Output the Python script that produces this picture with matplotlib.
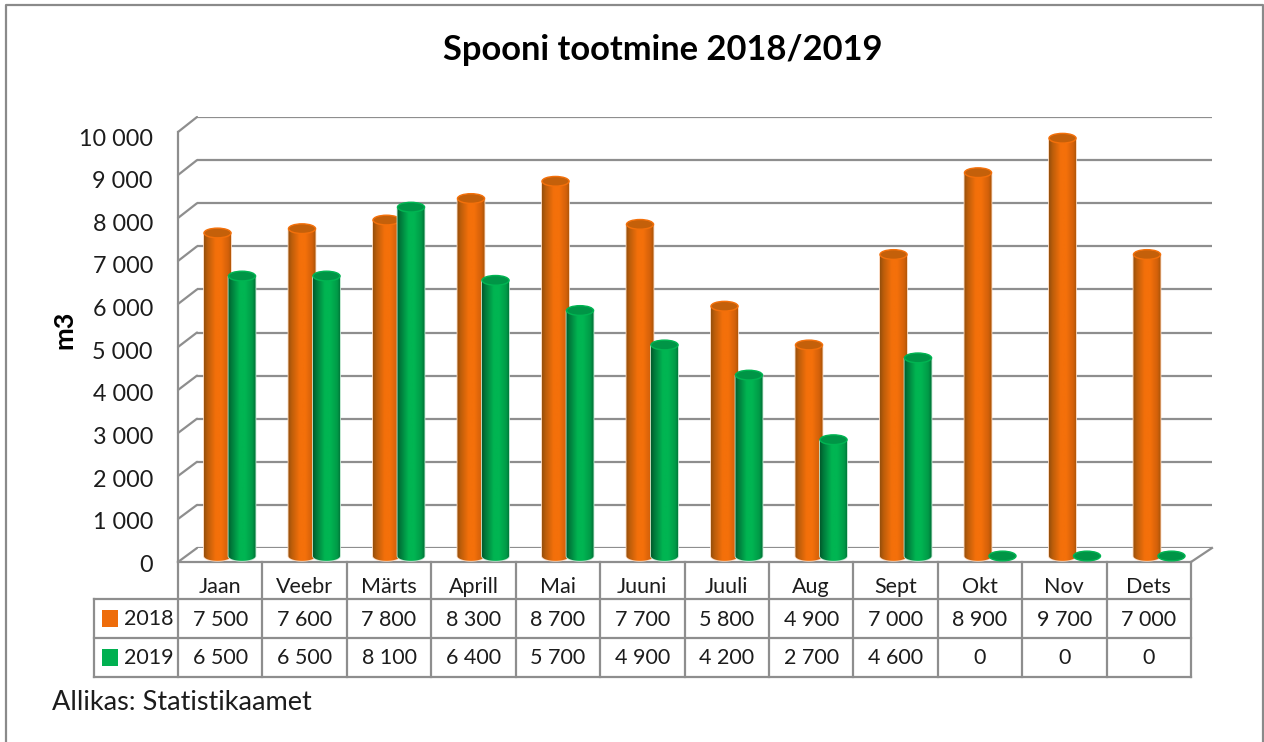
import numpy as np
import matplotlib
matplotlib.use("Agg")
import matplotlib.pyplot as plt
from matplotlib.colors import LinearSegmentedColormap
from matplotlib.patches import Ellipse, PathPatch, Rectangle
from matplotlib.path import Path

months = ["Jaan", "Veebr", "Märts", "Aprill", "Mai", "Juuni", "Juuli", "Aug", "Sept", "Okt", "Nov", "Dets"]
v2018 = [7500, 7600, 7800, 8300, 8700, 7700, 5800, 4900, 7000, 8900, 9700, 7000]
v2019 = [6500, 6500, 8100, 6400, 5700, 4900, 4200, 2700, 4600, 0, 0, 0]
ticks = [0, 1000, 2000, 3000, 4000, 5000, 6000, 7000, 8000, 9000, 10000]
title = "Spooni tootmine 2018/2019"
ylabel = "m3"
source = "Allikas: Statistikaamet"

plt.rcParams["font.family"] = ["Lato", "DejaVu Sans"]
W, H = 1264, 742
GRID = "#8e8e8e"
TXT = "#1c1c1c"
fmt = lambda v: f"{v:,}".replace(",", " ")

fig = plt.figure(figsize=(W / 100, H / 100), dpi=100, facecolor="white")

def plane(x0, x1, ytop, ybot, ymin=0):
    a = fig.add_axes([x0 / W, 1 - ybot / H, (x1 - x0) / W, (ybot - ytop) / H])
    a.set_xlim(0, 12)
    a.set_ylim(ymin, 10000)
    a.patch.set_alpha(0)
    return a

# pixel overlay for frame, table, text
ov = fig.add_axes([0, 0, 1, 1])
ov.set_xlim(0, W)
ov.set_ylim(H, 0)
ov.axis("off")
ov.plot([6, 6, 1263, 1263], [H, 5, 5, H], color="#8a8a8a", lw=1.6)

# back wall with gridlines
back = plane(197, 1212, 117, 548)
back.set_yticks(ticks)
back.set_xticks([])
back.tick_params(left=False, labelleft=False)
back.grid(axis="y", color=GRID, lw=1.6)
for s in back.spines.values():
    s.set_visible(False)

# front plane: axis lines
front = plane(178, 1191, 132, 562)
front.set_xticks([])
front.set_yticks([])
for n, s in front.spines.items():
    s.set_visible(n in ("left", "bottom"))
    s.set_color(GRID)
    s.set_linewidth(1.6)

# value-axis labels
lab = plane(178, 1191, 137, 563.5)
lab.set_yticks(ticks)
lab.set_yticklabels([fmt(t) for t in ticks], fontsize=16.8, color=TXT)
lab.set_xticks([])
lab.tick_params(axis="y", length=0, pad=18)
for s in lab.spines.values():
    s.set_visible(False)
lab.set_ylabel(ylabel, fontsize=19.5, fontweight="bold", color="black", labelpad=0)
lab.yaxis.set_label_coords((76 - 178) / (1191 - 178), (563.5 - 330) / (563.5 - 137))

# depth connectors
for t in ticks:
    yf = 562 - t * 0.043
    yb = 548 - t * 0.0431
    ov.plot([178, 197], [yf, yb], color=GRID, lw=1.6, solid_capstyle="round")
ov.plot([1191, 1212], [562, 548], color=GRID, lw=1.6)

# cylinders (axes extends below zero so the rounded bases are not clipped)
KY = (556 - 125.3) / 10000
YMIN = -500
mid = plane(187.5, 1201.5, 125.3, 556 - YMIN * KY, ymin=YMIN)
mid.axis("off")
cm_o = LinearSegmentedColormap.from_list("o", [(0, "#96500c"), (0.12, "#bb5d0a"), (0.42, "#f4700a"), (0.62, "#f4700a"), (0.88, "#d2600a"), (1, "#a85408")])
cm_g = LinearSegmentedColormap.from_list("g", [(0, "#005c2c"), (0.12, "#007a3b"), (0.42, "#00b552"), (0.62, "#00b552"), (0.88, "#009a47"), (1, "#007036")])
grad = np.linspace(0, 1, 64).reshape(1, -1)
BW = 0.32
EH = 225.0

def cylinder(cx, v, cmap, topc, halo, z):
    x0, x1 = cx - BW / 2, cx + BW / 2
    if v > 0:
        th = np.linspace(np.pi, 2 * np.pi, 40)
        vx = np.r_[x0, cx + BW / 2 * np.cos(th), x1, x0]
        vy = np.r_[v, EH / 2 * np.sin(th), v, v]
        clip = PathPatch(Path(np.c_[vx, vy]), transform=mid.transData, fc="none", ec=halo, lw=1.2, zorder=z - 0.2)
        mid.add_patch(clip)
        im = mid.imshow(grad, cmap=cmap, extent=(x0, x1, -EH, v), aspect="auto", zorder=z, interpolation="bilinear")
        im.set_clip_path(clip)
    mid.add_patch(Ellipse((cx, v), BW, EH, fc=topc, ec=cmap(0.5), lw=1.0, zorder=z + 0.5))

for i, (a, b) in enumerate(zip(v2018, v2019)):
    cylinder(i + 0.5 - 0.145, a, cm_o, "#c4600a", "#fbd6bb", 3 + i * 2)
    cylinder(i + 0.5 + 0.145, b, cm_g, "#009546", "#bfe8d0", 4 + i * 2)
mid.set_xlim(0, 12)
mid.set_ylim(YMIN, 10000)

# data table
cw = (1191 - 178) / 12
r = [562, 599, 638, 677]
ov.plot([178, 178], [r[0], r[3]], color=GRID, lw=1.6)
ov.plot([94, 94], [r[1], r[3]], color=GRID, lw=1.6)
for i in range(1, 13):
    ov.plot([178 + i * cw] * 2, [r[0], r[3]], color=GRID, lw=1.6)
for y in r[1:]:
    ov.plot([94, 1191], [y, y], color=GRID, lw=1.6)

tk = dict(ha="center", va="center", fontsize=15.5, color=TXT)
for i, m in enumerate(months):
    x = 178 + (i + 0.5) * cw
    ov.text(x, 587, m, **tk)
    ov.text(x, 620, fmt(v2018[i]), **tk)
    ov.text(x, 658, fmt(v2019[i]), **tk)
for y, c, name in ((610, "#ee6c0a", "2018"), (649, "#00b050", "2019")):
    ov.add_patch(Rectangle((102, y), 16, 17, fc=c, ec="none"))
    ov.text(124, y + 9, name, ha="left", va="center", fontsize=15.5, color=TXT)

ov.text(663, 50, title, ha="center", va="center", fontsize=24.8, fontweight="bold", color="black")
ov.text(52, 702, source, ha="left", va="center", fontsize=19.5, color=TXT)
fig.savefig("out.png", dpi=100, facecolor="white")
